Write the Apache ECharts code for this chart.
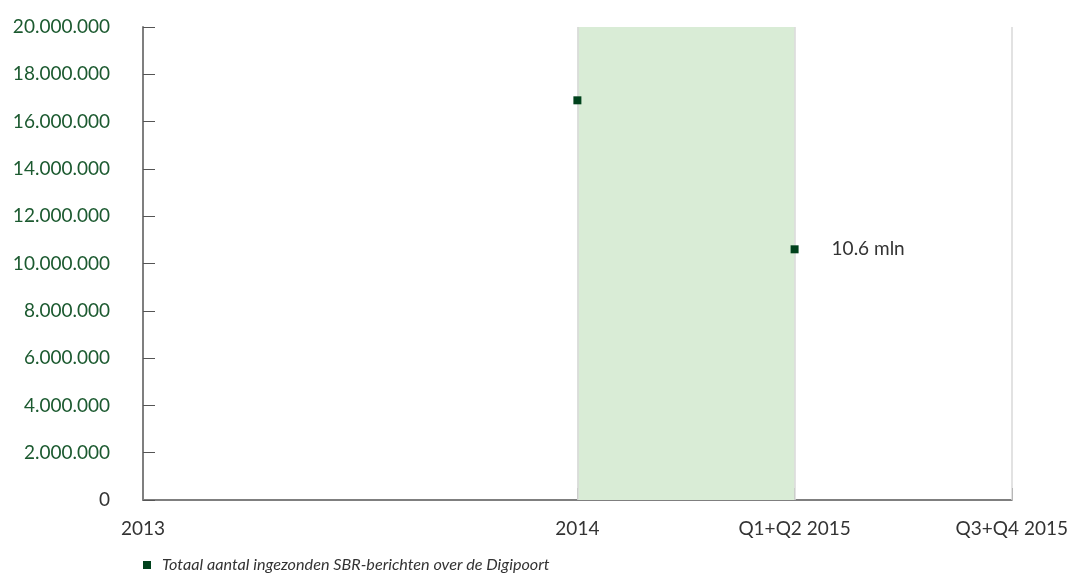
<!DOCTYPE html>
<html>
<head>
<meta charset="utf-8">
<script src="https://cdn.jsdelivr.net/npm/echarts@6/dist/echarts.min.js"></script>
<style>html,body{margin:0;padding:0;background:#fff}#c{width:1071px;height:576px}</style>
</head>
<body>
<div id="c"></div>
<script>
// Data
const xLabels = ['2013', '2014', 'Q1+Q2 2015', 'Q3+Q4 2015'];
const xPeriods = [0, 2, 3, 4]; // time position in half-years since start of 2013
const pointPeriods = [2, 3];
const pointValues = [16900000, 10600000];
const pointLabels = ['', '10.6 mln'];
const seriesName = 'Totaal aantal ingezonden SBR-berichten over de Digipoort';
const bandRange = [2, 3];
const yTicks = [0, 2000000, 4000000, 6000000, 8000000, 10000000, 12000000, 14000000, 16000000, 18000000, 20000000];

const FONT = 'Lato';
function fmt(v) { return String(v).replace(/\B(?=(\d{3})+(?!\d))/g, '.'); }

const chart = echarts.init(document.getElementById('c'));
chart.setOption({
  animation: false,
  textStyle: { fontFamily: FONT },
  grid: { left: 143, right: 57, top: 27, bottom: 76, containLabel: false },
  legend: {
    left: 138, bottom: -2, itemWidth: 8, itemHeight: 8, icon: 'rect', itemGap: 10,
    itemStyle: { opacity: 1 },
    textStyle: { fontFamily: FONT, fontStyle: 'italic', fontSize: 16.2, color: '#333', padding: [0, 0, 0, 6] },
    data: [seriesName]
  },
  xAxis: {
    type: 'value', min: xPeriods[0], max: xPeriods[xPeriods.length - 1],
    axisLine: { lineStyle: { color: '#7f7f7f', width: 2 } },
    axisTick: { show: true, inside: true, length: 12, customValues: xPeriods.slice(1), lineStyle: { color: '#555', width: 1 } },
    axisLabel: {
      customValues: xPeriods, margin: 19, fontSize: 19, color: '#333', fontFamily: FONT,
      formatter: v => xLabels[xPeriods.indexOf(v)] || ''
    },
    splitLine: { show: false }
  },
  yAxis: {
    type: 'value', min: yTicks[0], max: yTicks[yTicks.length - 1], interval: yTicks[1] - yTicks[0],
    axisLine: { show: true, lineStyle: { color: '#7f7f7f', width: 2 } },
    axisTick: { show: true, inside: true, length: 12, lineStyle: { color: '#555', width: 1 } },
    axisLabel: {
      margin: 33, fontSize: 19, fontFamily: FONT,
      color: v => (Number(v) === 0 ? '#333' : '#1c5a30'),
      formatter: v => fmt(v)
    },
    splitLine: { show: false }
  },
  series: [{
    name: seriesName,
    type: 'scatter',
    symbol: 'rect',
    symbolSize: 8,
    itemStyle: { color: '#00421c', opacity: 1 },
    z: 5,
    data: pointPeriods.map((p, i) => ({
      value: [p, pointValues[i]],
      label: {
        show: pointLabels[i] !== '', position: 'right', distance: 33,
        formatter: pointLabels[i], fontSize: 19, color: '#333', fontFamily: FONT
      }
    })),
    markArea: {
      silent: true,
      itemStyle: { color: '#d9ecd6' },
      data: [[{ xAxis: bandRange[0] }, { xAxis: bandRange[1] }]]
    },
    markLine: {
      silent: true, symbol: 'none', label: { show: false },
      lineStyle: { color: '#d9d9d9', width: 1.5, type: 'solid' },
      data: xPeriods.slice(1).map(p => ({ xAxis: p }))
    }
  }]
});
</script>
</body>
</html>
